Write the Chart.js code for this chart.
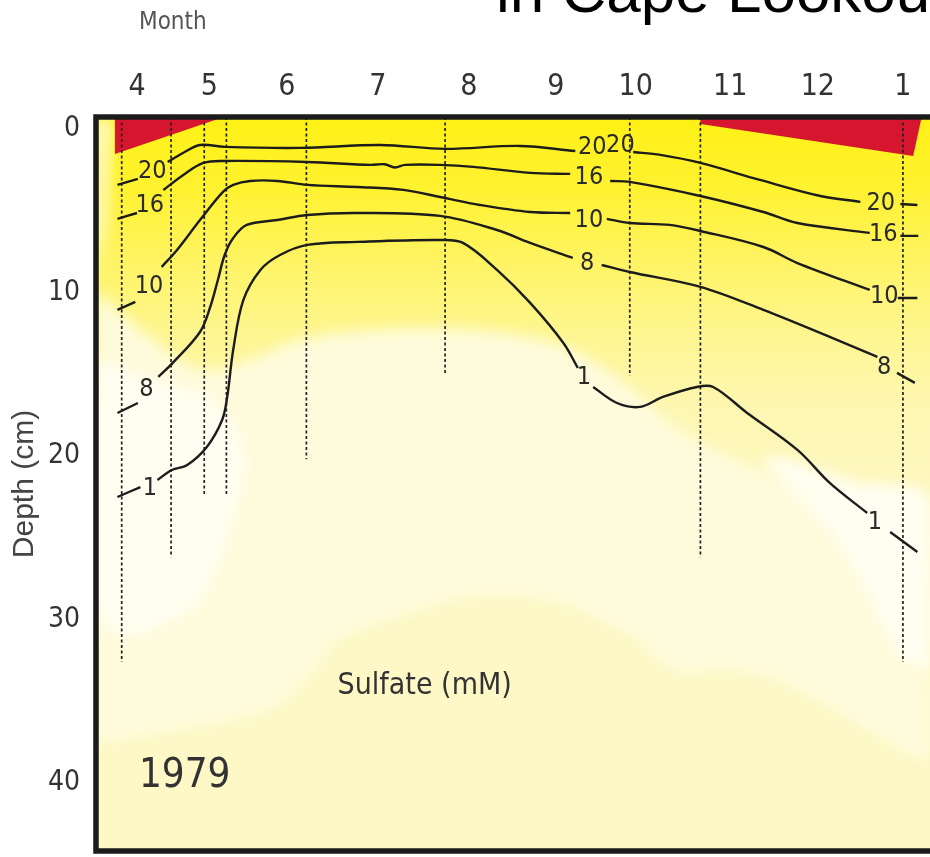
<!DOCTYPE html>
<html lang="en">
<head>
  <meta charset="UTF-8" />
  <title>Sulfate in Cape Lookout Bight sediments, 1979</title>
  <style>
    body {
      margin: 0;
      background: #fff;
      overflow: hidden;
    }
    #wrap {
      position: relative;
      width: 930px;
      height: 857px;
      overflow: hidden;
    }
    #chart {
      position: absolute;
      left: 0;
      top: 0;
    }
    .headline {
      position: absolute;
      left: 496px;
      top: -40px;
      font-family: 'Liberation Sans', Arial, sans-serif;
      font-size: 62px;
      line-height: 62px;
      color: #000;
      white-space: nowrap;
    }
    .month {
      position: absolute;
      left: 139px;
      top: 8px;
      font-family: 'Liberation Sans Narrow', 'Arial Narrow', 'DejaVu Sans Condensed', sans-serif;
      font-size: 24px;
      line-height: 26px;
      color: #555;
    }
  </style>
</head>
<body>
  <div id="wrap">
    <canvas id="chart" width="930" height="857"></canvas>
    <div class="headline">in Cape Lookout Bight</div>
    <div class="month">Month</div>
  </div>

  <script src="https://cdn.jsdelivr.net/npm/chart.js"></script>

  <script>
    // axis ticks (month labels sit at uneven positions along the time axis)
    const monthTickPos = [4.00, 4.85, 5.76, 6.83, 7.90, 8.92, 9.86, 10.97, 12.00, 13.00];
    const monthTickLabel = ['4', '5', '6', '7', '8', '9', '10', '11', '12', '1'];
    const depthTicks = [0, 10, 20, 30, 40];

    // sulfate isolines (mM), month position / depth (cm); null = gap for a label
    const iso20Month = [3.77, 4.01, null, 4.36, 4.56, 4.74, 5.03, 5.92, 6.86, 7.62, 8.50, 9.15, null, 9.83, 10.15, 10.62, 11.32, 12.03, 12.50, null, 12.97, 13.17];
    const iso20Depth = [3.42, 3.06, null, 2.02, 1.41, 0.98, 1.10, 1.16, 0.98, 1.22, 1.04, 1.35, null, 1.41, 1.59, 2.08, 3.12, 4.10, 4.46, null, 4.59, 4.65];

    const iso16Month = [3.77, 4.00, null, 4.31, 4.56, 4.78, 5.01, 6.00, 6.74, 6.91, 7.03, 7.15, 7.56, 7.95, 8.62, 9.09, null, 9.56, 9.79, 10.62, 11.36, 11.76, 12.61, null, 12.97, 13.18];
    const iso16Depth = [5.50, 5.14, null, 3.73, 2.75, 2.08, 1.96, 2.02, 2.20, 2.16, 2.36, 2.20, 2.20, 2.32, 2.69, 2.75, null, 3.18, 3.24, 4.10, 5.08, 5.75, 6.36, null, 6.54, 6.54];

    const iso10Month = [3.77, 3.98, null, 4.29, 4.47, 4.74, 5.01, 5.13, 5.33, 5.65, 6.00, 6.59, 7.13, 7.56, 8.03, 8.62, 9.09, null, 9.52, 9.79, 10.26, 10.62, 11.36, 11.76, 12.61, null, 12.94, 13.17];
    const iso10Depth = [11.07, 10.58, null, 8.44, 7.40, 5.57, 3.85, 3.42, 3.18, 3.18, 3.42, 3.55, 3.73, 4.16, 4.65, 5.08, 5.14, null, 5.50, 5.75, 5.87, 6.24, 7.22, 8.20, 9.85, null, 10.34, 10.34];

    const iso8Month = [3.77, 4.01, null, 4.25, 4.42, 4.74, 4.86, 4.95, 5.03, 5.13, 5.29, 5.65, 6.00, 6.59, 7.56, 8.23, 8.62, 9.12, null, 9.46, 9.79, 10.62, 11.36, 12.14, 12.70, null, 12.93, 13.14];
    const iso8Depth = [17.37, 16.76, null, 15.17, 14.31, 12.42, 10.89, 9.24, 7.71, 6.67, 5.87, 5.57, 5.26, 5.14, 5.32, 6.18, 6.97, 7.89, null, 8.32, 8.75, 9.66, 11.07, 12.72, 13.94, null, 14.92, 15.53];

    const iso1Month = [3.77, 4.04, null, 4.24, 4.41, 4.59, 4.82, 5.00, 5.06, 5.13, 5.25, 5.45, 5.68, 6.00, 6.59, 7.56, 7.83, 8.23, 8.62, 9.01, 9.18, null, 9.36, 9.64, 9.91, 10.18, 10.58, 10.77, 11.17, 11.76, 12.14, 12.58, null, 12.85, 13.17];
    const iso1Depth = [22.51, 21.90, null, 21.47, 20.86, 20.55, 19.45, 17.80, 16.39, 13.52, 10.46, 8.62, 7.71, 7.09, 6.91, 6.79, 6.97, 8.62, 10.64, 13.09, 14.62, null, 15.78, 16.76, 17.00, 16.39, 15.78, 15.78, 17.37, 19.63, 21.65, 23.49, null, 24.65, 25.87];

    // isoline labels
    const isoLabelText = ['20', '20', '20', '20', '16', '16', '16', '10', '10', '10', '8', '8', '8', '1', '1', '1'];
    const isoLabelMonth = [4.18, 9.35, 9.68, 12.74, 4.15, 9.31, 12.77, 4.14, 9.31, 12.78, 4.11, 9.29, 12.78, 4.15, 9.25, 12.67];
    const isoLabelDepth = [2.63, 1.16, 1.04, 4.53, 4.71, 2.94, 6.48, 9.66, 5.57, 10.27, 15.96, 8.20, 14.62, 22.02, 15.23, 24.10];

    // sampling cores (dashed verticals)
    const coreMonth = [3.82, 4.40, 4.79, 5.05, 5.99, 7.62, 9.79, 10.62, 13.00];
    const coreBottom = [32.6, 26.2, 22.4, 22.4, 20.2, 15.0, 15.1, 26.2, 32.6];
    const coreTop = -0.73;

    // highest sulfate zones (red)
    const redLeftMonth = [3.74, 5.02, 3.74];
    const redLeftDepth = [-0.73, -0.73, 1.53];
    const redRightMonth = [10.62, 13.22, 13.12, 10.62];
    const redRightDepth = [-0.73, -0.73, 1.65, -0.30];

    // paler shading zones of the colour field
    const paleMonth = [3.52, 4.04, 4.74, 5.33, 5.92, 6.86, 7.91, 8.97, 9.68, 10.38, 11.32, 12.38, 13.32, 13.32, 13.14, 12.38, 11.51, 10.87, 10.37, 9.68, 8.79, 7.91, 7.22, 6.39, 6.15, 5.65, 4.51, 3.58, 3.52];
    const paleDepth = [9.85, 12.29, 14.74, 14.13, 12.90, 12.29, 12.29, 13.21, 15.35, 18.41, 20.86, 22.69, 23.30, 38.41, 38.41, 36.15, 33.70, 33.09, 33.27, 30.64, 28.81, 28.68, 29.60, 31.25, 32.66, 35.35, 36.76, 37.55, 37.55];
    const whiteLeftMonth = [3.52, 4.15, 4.86, 5.25, 5.13, 4.74, 4.27, 3.88, 3.57, 3.52];
    const whiteLeftDepth = [14.13, 15.35, 16.57, 19.63, 23.73, 28.81, 30.34, 31.07, 30.03, 29.42];
    const whiteRightMonth = [11.32, 12.03, 12.50, 12.91, 13.08, 13.32, 13.32, 12.38, 11.56];
    const whiteRightDepth = [20.24, 23.91, 27.58, 31.86, 32.60, 32.78, 22.69, 21.50, 20.00];
    const edgeMonth = [3.52, 3.71, 3.64, 3.52];
    const edgeDepth = [-0.73, -0.73, 6.0, 9.0];

    // text placed inside the plot
    const noteSulfate = [7.38, 34.07];
    const noteYear = [4.56, 39.63];

    const narrow = "'Liberation Sans Narrow', 'Arial Narrow', 'DejaVu Sans Condensed', sans-serif";

    function pts(months, depths) {
      return months.map((m, i) => ({ x: m, y: depths[i] }));
    }

    function coreLines() {
      const out = [];
      coreMonth.forEach((m, i) => {
        out.push({ x: m, y: coreTop });
        out.push({ x: m, y: coreBottom[i] });
        out.push({ x: null, y: null });
      });
      return out;
    }

    function isoLine(months, depths) {
      return {
        data: pts(months, depths),
        borderColor: '#1c1c1c',
        borderWidth: 2.4,
        tension: 0.35,
        fill: false,
        spanGaps: false,
        order: 1
      };
    }

    function area(months, depths, color, order, tension) {
      return {
        data: pts(months, depths),
        borderColor: 'rgba(0,0,0,0)',
        borderWidth: 0,
        backgroundColor: color,
        fill: 'shape',
        tension: tension,
        order: order
      };
    }

    const datasets = [
      isoLine(iso20Month, iso20Depth),
      isoLine(iso16Month, iso16Depth),
      isoLine(iso10Month, iso10Depth),
      isoLine(iso8Month, iso8Depth),
      isoLine(iso1Month, iso1Depth),
      {
        data: coreLines(),
        borderColor: '#222',
        borderWidth: 1.7,
        borderDash: [3, 2.5],
        fill: false,
        spanGaps: false,
        order: 2
      },
      area(redLeftMonth, redLeftDepth, '#d6152f', 3, 0),
      area(redRightMonth, redRightDepth, '#d6152f', 3, 0),
      area(whiteLeftMonth, whiteLeftDepth, '#fffef1', 4, 0.35),
      area(whiteRightMonth, whiteRightDepth, '#fffef1', 4, 0.35),
      area(edgeMonth, edgeDepth, '#fffbd6', 4, 0),
      area(paleMonth, paleDepth, '#fefbdc', 5, 0.35)
    ];
    const lastShade = 8; // shading sets 8..11 are drawn first, softened with a blur

    // yellow colour field behind everything
    const fieldPlugin = {
      id: 'field',
      beforeDatasetsDraw(c) {
        const { ctx, chartArea: a } = c;
        const g = ctx.createLinearGradient(0, a.top, 0, a.bottom);
        g.addColorStop(0.00, '#fff114');
        g.addColorStop(0.10, '#fff231');
        g.addColorStop(0.20, '#fff465');
        g.addColorStop(0.30, '#fef692');
        g.addColorStop(0.40, '#fdf7b2');
        g.addColorStop(0.55, '#fdf8c4');
        g.addColorStop(1.00, '#fdf8c6');
        ctx.save();
        ctx.fillStyle = g;
        ctx.fillRect(a.left, a.top, a.right - a.left, a.bottom - a.top);
        ctx.restore();
        ctx.filter = 'blur(7px)';
      },
      afterDatasetDraw(c, args) {
        if (args.index === lastShade) c.ctx.filter = 'none';
      }
    };

    const textPlugin = {
      id: 'isoText',
      afterDatasetsDraw(c) {
        const { ctx } = c;
        const x = c.scales.x, y = c.scales.y;
        ctx.save();
        ctx.filter = 'none';
        ctx.textAlign = 'center';
        ctx.textBaseline = 'middle';
        ctx.fillStyle = '#2a2a2a';
        ctx.font = '25px ' + narrow;
        isoLabelText.forEach((t, i) => {
          ctx.fillText(t, x.getPixelForValue(isoLabelMonth[i]), y.getPixelForValue(isoLabelDepth[i]));
        });
        ctx.fillStyle = '#333';
        ctx.font = '30px ' + narrow;
        ctx.fillText('Sulfate (mM)', x.getPixelForValue(noteSulfate[0]), y.getPixelForValue(noteSulfate[1]));
        ctx.font = '40px ' + narrow;
        ctx.fillText('1979', x.getPixelForValue(noteYear[0]), y.getPixelForValue(noteYear[1]));
        ctx.restore();
      }
    };

    const framePlugin = {
      id: 'frame',
      afterDraw(c) {
        const { ctx, chartArea: a } = c;
        ctx.save();
        ctx.filter = 'none';
        ctx.strokeStyle = '#1b1b1b';
        ctx.lineWidth = 5.5;
        ctx.beginPath();
        ctx.moveTo(a.right + 10, a.top);
        ctx.lineTo(a.left, a.top);
        ctx.lineTo(a.left, a.bottom);
        ctx.lineTo(a.right + 10, a.bottom);
        ctx.stroke();
        ctx.restore();
      }
    };

    new Chart(document.getElementById('chart'), {
      type: 'line',
      data: { datasets: datasets },
      options: {
        responsive: false,
        animation: false,
        devicePixelRatio: 1,
        layout: { padding: { left: 0, right: 0, top: 0, bottom: 6 } },
        elements: { point: { radius: 0, hoverRadius: 0 } },
        plugins: {
          legend: { display: false },
          tooltip: { enabled: false }
        },
        scales: {
          x: {
            type: 'linear',
            position: 'top',
            min: 3.518,
            max: 13.318,
            grid: { display: false, drawTicks: false },
            border: { display: false },
            afterBuildTicks: s => { s.ticks = monthTickPos.map(v => ({ value: v })); },
            afterFit: s => {
              s.height = 117;
              s.paddingLeft = 0;
              s.paddingRight = 0;
            },
            ticks: {
              autoSkip: false,
              maxRotation: 0,
              padding: 12,
              color: '#333',
              font: { family: narrow, size: 30 },
              callback: (v, i) => monthTickLabel[i]
            }
          },
          y: {
            type: 'linear',
            reverse: true,
            min: -0.73,
            max: 44.16,
            grid: { display: false, drawTicks: false },
            border: { display: false },
            afterBuildTicks: s => { s.ticks = depthTicks.map(v => ({ value: v })); },
            afterFit: s => {
              s.width = 96;
              s.paddingTop = 0;
              s.paddingBottom = 0;
            },
            ticks: {
              padding: 16,
              color: '#333',
              font: { family: narrow, size: 28 },
              callback: v => String(v)
            },
            title: {
              display: true,
              text: 'Depth (cm)',
              color: '#444',
              font: { family: "'Liberation Sans', Arial, sans-serif", size: 30 },
              padding: { top: 7, bottom: 0 }
            }
          }
        }
      },
      plugins: [fieldPlugin, textPlugin, framePlugin]
    });
  </script>
</body>
</html>
